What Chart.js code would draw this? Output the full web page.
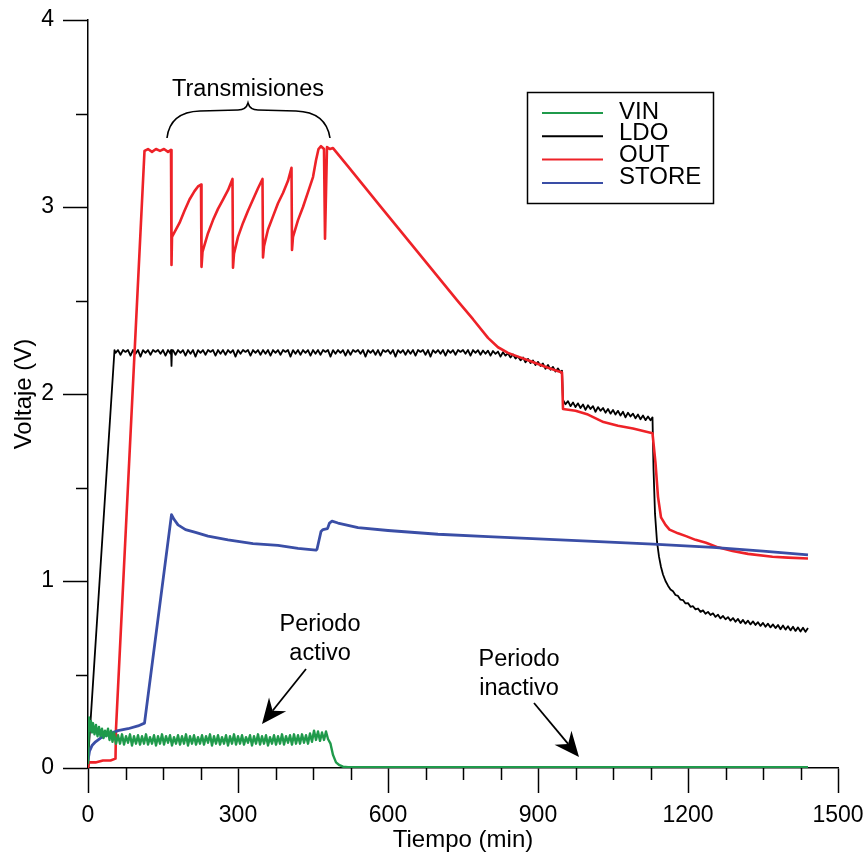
<!DOCTYPE html>
<html>
<head>
<meta charset="utf-8">
<script src="https://cdn.jsdelivr.net/npm/chart.js@4.4.0/dist/chart.umd.min.js"></script>
<style>
  html, body { margin: 0; padding: 0; background: #ffffff; }
  #wrap { width: 868px; height: 855px; }
</style>
</head>
<body>
<div id="wrap"><canvas id="c" width="868" height="855"></canvas></div>
<script>
// Axis tick values (minutes / volts); labels only on the major ones
const timeTicks = [0, 75, 150, 225, 300, 375, 450, 525, 600, 675, 750, 825, 900, 975, 1050, 1125, 1200, 1275, 1350, 1425, 1500];
const voltTicks = [0, 0.5, 1, 1.5, 2, 2.5, 3, 3.5, 4];

const seriesNames = ['VIN', 'LDO', 'OUT', 'STORE'];
const seriesColors = ['#1f9a4b', '#000000', '#ee2228', '#3a4ea6'];

// VIN: input voltage (min, V)
const vinTime = [0, 2, 4, 6, 8, 10, 13, 16, 19, 22, 25, 28, 31, 34, 37, 40, 43, 46, 49, 52, 56,
  60, 64, 68, 72, 76, 80, 84, 88, 92, 96,
  100, 104, 108, 112, 116, 120, 124, 128, 132, 136,
  140, 144, 148, 152, 156, 160, 164, 168, 172, 176,
  180, 184, 188, 192, 196, 200, 204, 208, 212, 216,
  220, 224, 228, 232, 236, 240, 244, 248, 252, 256,
  260, 264, 268, 272, 276, 280, 284, 288, 292, 296,
  300, 304, 308, 312, 316, 320, 324, 328, 332, 336,
  340, 344, 348, 352, 356, 360, 364, 368, 372, 376,
  380, 384, 388, 392, 396, 400, 404, 408, 412, 416,
  420, 424, 428, 432, 436, 440, 444, 448, 452, 456,
  460, 464, 468, 472, 476, 480,
  485, 490, 496, 503, 510, 520, 700, 900, 1100, 1300, 1440];
const vinVolts = [0.02, 0.27, 0.20, 0.25, 0.19, 0.24, 0.18, 0.23, 0.17, 0.22, 0.17, 0.21, 0.16, 0.20, 0.17, 0.21, 0.15, 0.20, 0.14, 0.19, 0.13,
  0.175, 0.13, 0.18, 0.125, 0.17, 0.135, 0.18, 0.12, 0.17, 0.13,
  0.175, 0.125, 0.17, 0.13, 0.18, 0.125, 0.165, 0.13, 0.175, 0.12,
  0.17, 0.13, 0.18, 0.125, 0.17, 0.135, 0.175, 0.12, 0.165, 0.13,
  0.175, 0.125, 0.17, 0.13, 0.18, 0.12, 0.17, 0.13, 0.175, 0.125,
  0.165, 0.13, 0.175, 0.125, 0.17, 0.135, 0.18, 0.12, 0.17, 0.13,
  0.175, 0.125, 0.165, 0.13, 0.175, 0.12, 0.17, 0.13, 0.18, 0.125,
  0.17, 0.13, 0.175, 0.125, 0.165, 0.135, 0.175, 0.12, 0.17, 0.13,
  0.18, 0.125, 0.17, 0.13, 0.175, 0.12, 0.165, 0.13, 0.175, 0.125,
  0.17, 0.13, 0.18, 0.125, 0.17, 0.135, 0.175, 0.125, 0.18, 0.13,
  0.175, 0.13, 0.18, 0.135, 0.175, 0.13, 0.185, 0.14, 0.20, 0.15,
  0.195, 0.145, 0.19, 0.15, 0.195, 0.155,
  0.13, 0.07, 0.03, 0.015, 0.007, 0.004, 0.004, 0.004, 0.004, 0.004, 0.004];

// LDO: regulator output (min, V)
const ldoTime = [0, 1, 53,
  55, 60, 65, 70, 75, 80, 85, 90, 95, 100, 105, 110, 115, 120, 125, 130, 135, 140, 145, 150, 155, 160,
  165, 166, 167, 168, 170, 175, 180, 185, 190, 195, 200, 205, 210, 215, 220, 225, 230, 235, 240, 245, 250, 255, 260,
  265, 270, 275, 280, 285, 290, 295, 300, 305, 310, 315, 320, 325, 330, 335, 340, 345, 350, 355, 360,
  365, 370, 375, 380, 385, 390, 395, 400, 405, 410, 415, 420, 425, 430, 435, 440, 445, 450, 455, 460,
  465, 470, 475, 480, 485, 490, 495, 500, 505, 510, 515, 520, 525, 530, 535, 540, 545, 550, 555, 560,
  565, 570, 575, 580, 585, 590, 595, 600, 605, 610, 615, 620, 625, 630, 635, 640, 645, 650, 655, 660,
  665, 670, 675, 680, 685, 690, 695, 700, 705, 710, 715, 720, 725, 730, 735, 740, 745, 750, 755, 760,
  765, 770, 775, 780, 785, 790, 795, 800, 805, 810, 815, 820, 825, 830, 835, 840, 845, 850, 855, 860,
  865, 870, 875, 880, 885, 890, 895, 900, 905, 910, 915, 920, 925, 930, 935, 940, 945, 948,
  950, 955, 960, 965, 970, 975, 980, 985, 990, 995, 1000, 1005, 1010, 1015, 1020, 1025, 1030, 1035, 1040, 1045,
  1050, 1055, 1060, 1065, 1070, 1075, 1080, 1085, 1090, 1095, 1100, 1105, 1110, 1115, 1120, 1125, 1129,
  1131, 1134, 1138, 1142, 1146, 1150, 1155,
  1160, 1165, 1170, 1175, 1180, 1185, 1190, 1195, 1200, 1205, 1210, 1215, 1220, 1225, 1230, 1235, 1240, 1245, 1250, 1255,
  1260, 1265, 1270, 1275, 1280, 1285, 1290, 1295, 1300, 1305, 1310, 1315, 1320, 1325, 1330, 1335, 1340, 1345, 1350, 1355,
  1360, 1365, 1370, 1375, 1380, 1385, 1390, 1395, 1400, 1405, 1410, 1415, 1420, 1425, 1430, 1435, 1440];
const ldoVolts = [0.0, 0.08, 2.235,
  2.22, 2.235, 2.21, 2.235, 2.225, 2.235, 2.205, 2.235, 2.215, 2.235, 2.2, 2.235, 2.22, 2.235, 2.21, 2.235, 2.225, 2.235, 2.215, 2.235, 2.205, 2.235,
  2.215, 2.235, 2.15, 2.235, 2.235, 2.21, 2.235, 2.22, 2.235, 2.205, 2.235, 2.215, 2.235, 2.2, 2.235, 2.22, 2.235, 2.21, 2.235, 2.225, 2.235, 2.205, 2.235,
  2.215, 2.235, 2.21, 2.235, 2.22, 2.235, 2.2, 2.235, 2.215, 2.235, 2.225, 2.235, 2.205, 2.235, 2.22, 2.235, 2.21, 2.235, 2.215, 2.235,
  2.205, 2.235, 2.22, 2.235, 2.21, 2.235, 2.225, 2.235, 2.2, 2.235, 2.215, 2.235, 2.21, 2.235, 2.22, 2.235, 2.205, 2.235, 2.215, 2.235,
  2.21, 2.235, 2.225, 2.235, 2.2, 2.235, 2.215, 2.235, 2.22, 2.235, 2.205, 2.235, 2.21, 2.235, 2.225, 2.235, 2.215, 2.235, 2.2, 2.235,
  2.22, 2.235, 2.21, 2.235, 2.205, 2.235, 2.225, 2.235, 2.215, 2.235, 2.2, 2.235, 2.22, 2.235, 2.21, 2.235, 2.215, 2.235, 2.205, 2.235,
  2.225, 2.235, 2.21, 2.235, 2.2, 2.235, 2.22, 2.235, 2.215, 2.235, 2.205, 2.235, 2.22, 2.235, 2.21, 2.235, 2.225, 2.235, 2.215, 2.235,
  2.205, 2.235, 2.22, 2.234, 2.21, 2.233, 2.215, 2.232, 2.205, 2.23, 2.215, 2.227, 2.2, 2.223, 2.205, 2.218, 2.195, 2.212, 2.19, 2.20,
  2.18, 2.195, 2.17, 2.188, 2.165, 2.18, 2.155, 2.172, 2.15, 2.163, 2.135, 2.155, 2.13, 2.145, 2.12, 2.137, 2.115, 2.125,
  1.968, 1.945, 1.962, 1.935, 1.955, 1.93, 1.95, 1.925, 1.944, 1.915, 1.94, 1.92, 1.935, 1.905, 1.93, 1.91, 1.925, 1.90, 1.92, 1.895,
  1.915, 1.89, 1.91, 1.885, 1.905, 1.875, 1.90, 1.88, 1.895, 1.87, 1.89, 1.865, 1.885, 1.86, 1.88, 1.86, 1.875,
  1.60, 1.36, 1.21, 1.13, 1.075, 1.035, 1.0,
  0.975, 0.955, 0.945, 0.925, 0.92, 0.90, 0.898, 0.88, 0.882, 0.862, 0.865, 0.848, 0.853, 0.835, 0.843, 0.825, 0.835, 0.818, 0.827, 0.808,
  0.82, 0.80, 0.813, 0.795, 0.807, 0.788, 0.802, 0.782, 0.797, 0.775, 0.792, 0.772, 0.788, 0.768, 0.784, 0.765, 0.78, 0.76, 0.776, 0.755,
  0.772, 0.752, 0.768, 0.748, 0.765, 0.742, 0.762, 0.74, 0.758, 0.736, 0.755, 0.733, 0.752, 0.73, 0.75, 0.728, 0.748];

// OUT: output node (min, V)
const outTime = [0, 2, 15, 30, 45, 55, 56, 113, 120, 128, 136, 144, 152, 160, 166,
  167, 168, 183, 193, 203, 213, 220, 226,
  227, 229, 240, 250, 260, 270, 280, 289,
  290, 292, 300, 310, 320, 330, 340, 349,
  350, 352, 360, 370, 380, 390, 400, 407,
  408, 410, 420, 430, 440, 450, 456, 461, 466, 472,
  474, 478, 484, 490,
  520, 550, 584, 620, 660, 700, 740, 770, 800, 820, 840, 860, 880, 900, 920, 948,
  950, 975, 1000, 1031, 1060, 1090, 1129,
  1135, 1140, 1146, 1155, 1163, 1180, 1196, 1215, 1236, 1260, 1289, 1320, 1369, 1400, 1440];
const outVolts = [0.0, 0.03, 0.03, 0.04, 0.04, 0.05, 0.21, 3.30, 3.31, 3.295, 3.31, 3.30, 3.31, 3.295, 3.305,
  2.69, 2.84, 2.915, 2.98, 3.04, 3.085, 3.11, 3.12,
  2.68, 2.76, 2.86, 2.93, 2.99, 3.04, 3.09, 3.15,
  2.675, 2.75, 2.84, 2.915, 2.98, 3.04, 3.10, 3.15,
  2.73, 2.79, 2.88, 2.95, 3.02, 3.075, 3.14, 3.21,
  2.77, 2.84, 2.93, 3.00, 3.08, 3.16, 3.25, 3.31, 3.325, 3.31,
  2.83, 3.32, 3.31, 3.315,
  3.217, 3.118, 3.006, 2.888, 2.757, 2.626, 2.495, 2.40, 2.30, 2.25, 2.22, 2.20, 2.18, 2.16, 2.14, 2.115,
  1.92, 1.91, 1.89, 1.85, 1.83, 1.815, 1.79,
  1.63, 1.45, 1.34, 1.30, 1.275, 1.255, 1.24, 1.22, 1.205, 1.18, 1.16, 1.145, 1.13, 1.125, 1.12];

// STORE: storage element (min, V)
const storeTime = [0, 3, 8, 15, 25, 40, 60, 80, 100, 113, 167, 172, 180, 195, 215, 240, 280, 330, 380, 420,
  456, 458, 466, 470, 479, 483, 488, 500, 540, 600, 700, 800, 900, 1000, 1130, 1250, 1350, 1440];
const storeVolts = [0.04, 0.09, 0.12, 0.14, 0.16, 0.18, 0.20, 0.21, 0.225, 0.24, 1.355, 1.33, 1.30, 1.275, 1.26, 1.24, 1.22, 1.20, 1.19, 1.175,
  1.165, 1.17, 1.265, 1.275, 1.28, 1.31, 1.32, 1.31, 1.285, 1.27, 1.25, 1.237, 1.225, 1.213, 1.197, 1.18, 1.16, 1.14];

const FONT = 'Liberation Sans, Arial, Helvetica, sans-serif';

function points(ts, vs) { return ts.map((t, i) => ({ x: t, y: vs[i] })); }

// Minor tick marks, annotations and the boxed legend
const decorations = {
  id: 'decorations',
  afterDraw(chart) {
    const ctx = chart.ctx;
    const xs = chart.scales.x, ys = chart.scales.y;
    const area = chart.chartArea;
    ctx.save();
    ctx.strokeStyle = '#000';
    ctx.lineWidth = 1.5;
    ctx.beginPath();
    timeTicks.forEach(v => {
      if (v % 300 !== 0) {
        const px = Math.round(xs.getPixelForValue(v)) + 0.5;
        ctx.moveTo(px, area.bottom);
        ctx.lineTo(px, area.bottom + 12);
      }
    });
    voltTicks.forEach(v => {
      if (!Number.isInteger(v)) {
        const py = Math.round(ys.getPixelForValue(v)) + 0.5;
        ctx.moveTo(area.left, py);
        ctx.lineTo(area.left - 12, py);
      }
    });
    ctx.stroke();

    // text labels
    ctx.fillStyle = '#000';
    ctx.font = '23.5px ' + FONT;
    ctx.textAlign = 'center';
    ctx.textBaseline = 'middle';
    ctx.fillText('Transmisiones', 248, 90);
    ctx.fillText('Periodo', 320, 625);
    ctx.fillText('activo', 320, 654);
    ctx.fillText('Periodo', 519, 660);
    ctx.fillText('inactivo', 519, 689);

    // curly brace over the transmissions
    ctx.lineWidth = 1.6;
    ctx.beginPath();
    ctx.moveTo(167, 138);
    ctx.quadraticCurveTo(170, 112, 200, 111);
    ctx.lineTo(238, 110);
    ctx.quadraticCurveTo(246, 110, 248, 103);
    ctx.quadraticCurveTo(250, 110, 258, 110);
    ctx.lineTo(296, 111);
    ctx.quadraticCurveTo(326, 112, 330, 138);
    ctx.stroke();

    // arrows
    function arrow(x0, y0, x1, y1) {
      const ang = Math.atan2(y1 - y0, x1 - x0);
      const len = 25, half = 11, notch = 17;
      const bx = x1 - Math.cos(ang) * len, by = y1 - Math.sin(ang) * len;
      const nx = x1 - Math.cos(ang) * notch, ny = y1 - Math.sin(ang) * notch;
      ctx.lineWidth = 1.8;
      ctx.beginPath();
      ctx.moveTo(x0, y0);
      ctx.lineTo(nx, ny);
      ctx.stroke();
      ctx.beginPath();
      ctx.moveTo(x1, y1);
      ctx.lineTo(bx - Math.sin(ang) * half, by + Math.cos(ang) * half);
      ctx.lineTo(nx, ny);
      ctx.lineTo(bx + Math.sin(ang) * half, by - Math.cos(ang) * half);
      ctx.closePath();
      ctx.fill();
    }
    arrow(306, 669, 262, 724);
    arrow(534, 703, 579, 757);

    // legend box
    ctx.lineWidth = 1.5;
    ctx.strokeRect(527.5, 92.5, 186, 111);
    ctx.textAlign = 'left';
    ctx.font = '24px ' + FONT;
    chart.data.datasets.forEach((ds, i) => {
      const ly = 113 + i * 23.3;
      ctx.strokeStyle = ds.borderColor;
      ctx.lineWidth = 2;
      ctx.beginPath();
      ctx.moveTo(542, ly);
      ctx.lineTo(603, ly);
      ctx.stroke();
      ctx.fillStyle = '#000';
      ctx.fillText(ds.label, 619, 112 + i * 21.8);
    });
    ctx.restore();
  }
};

const widths = [2.4, 1.8, 2.6, 2.8];
const orders = [0, 3, 2, 1];
const series = [points(vinTime, vinVolts), points(ldoTime, ldoVolts), points(outTime, outVolts), points(storeTime, storeVolts)];

new Chart(document.getElementById('c'), {
  type: 'line',
  data: {
    datasets: seriesNames.map((name, i) => ({
      label: name,
      data: series[i],
      borderColor: seriesColors[i],
      backgroundColor: seriesColors[i],
      borderWidth: widths[i],
      pointRadius: 0,
      tension: 0,
      borderJoinStyle: 'round',
      order: orders[i]
    }))
  },
  options: {
    responsive: false,
    animation: false,
    devicePixelRatio: 1,
    layout: { padding: { top: 20, right: 30, left: 0, bottom: 0 } },
    plugins: { legend: { display: false }, tooltip: { enabled: false } },
    scales: {
      x: {
        type: 'linear',
        min: 0, max: 1500,
        afterBuildTicks(scale) { scale.ticks = timeTicks.map(v => ({ value: v })); },
        afterFit(scale) { scale.height = 87; scale.paddingLeft = 0; scale.paddingRight = 0; },
        ticks: {
          autoSkip: false, maxRotation: 0, padding: 9, color: '#000',
          font: { family: FONT, size: 23 },
          callback: v => (v % 300 === 0 ? String(v) : '')
        },
        grid: {
          drawOnChartArea: false, drawTicks: true, tickLength: 25, tickWidth: 1.5,
          tickColor: ctx => (ctx.tick && ctx.tick.value % 300 === 0 ? '#000' : 'rgba(0,0,0,0)')
        },
        border: { display: true, color: '#000', width: 1.5 },
        title: { display: true, text: 'Tiempo (min)', color: '#000', font: { family: FONT, size: 24 }, padding: { top: 0, bottom: 0 } }
      },
      y: {
        type: 'linear',
        min: 0, max: 4,
        afterBuildTicks(scale) { scale.ticks = voltTicks.map(v => ({ value: v })); },
        afterFit(scale) { scale.width = 88; scale.paddingTop = 0; scale.paddingBottom = 0; },
        ticks: {
          autoSkip: false, padding: 9, color: '#000',
          font: { family: FONT, size: 23 },
          callback: v => (Number.isInteger(v) ? String(v) : '')
        },
        grid: {
          drawOnChartArea: false, drawTicks: true, tickLength: 25, tickWidth: 1.5,
          tickColor: ctx => (ctx.tick && Number.isInteger(ctx.tick.value) ? '#000' : 'rgba(0,0,0,0)')
        },
        border: { display: true, color: '#000', width: 1.5 },
        title: { display: true, text: 'Voltaje (V)', color: '#000', font: { family: FONT, size: 24 }, padding: { top: 10, bottom: 0 } }
      }
    }
  },
  plugins: [decorations]
});
</script>
</body>
</html>
